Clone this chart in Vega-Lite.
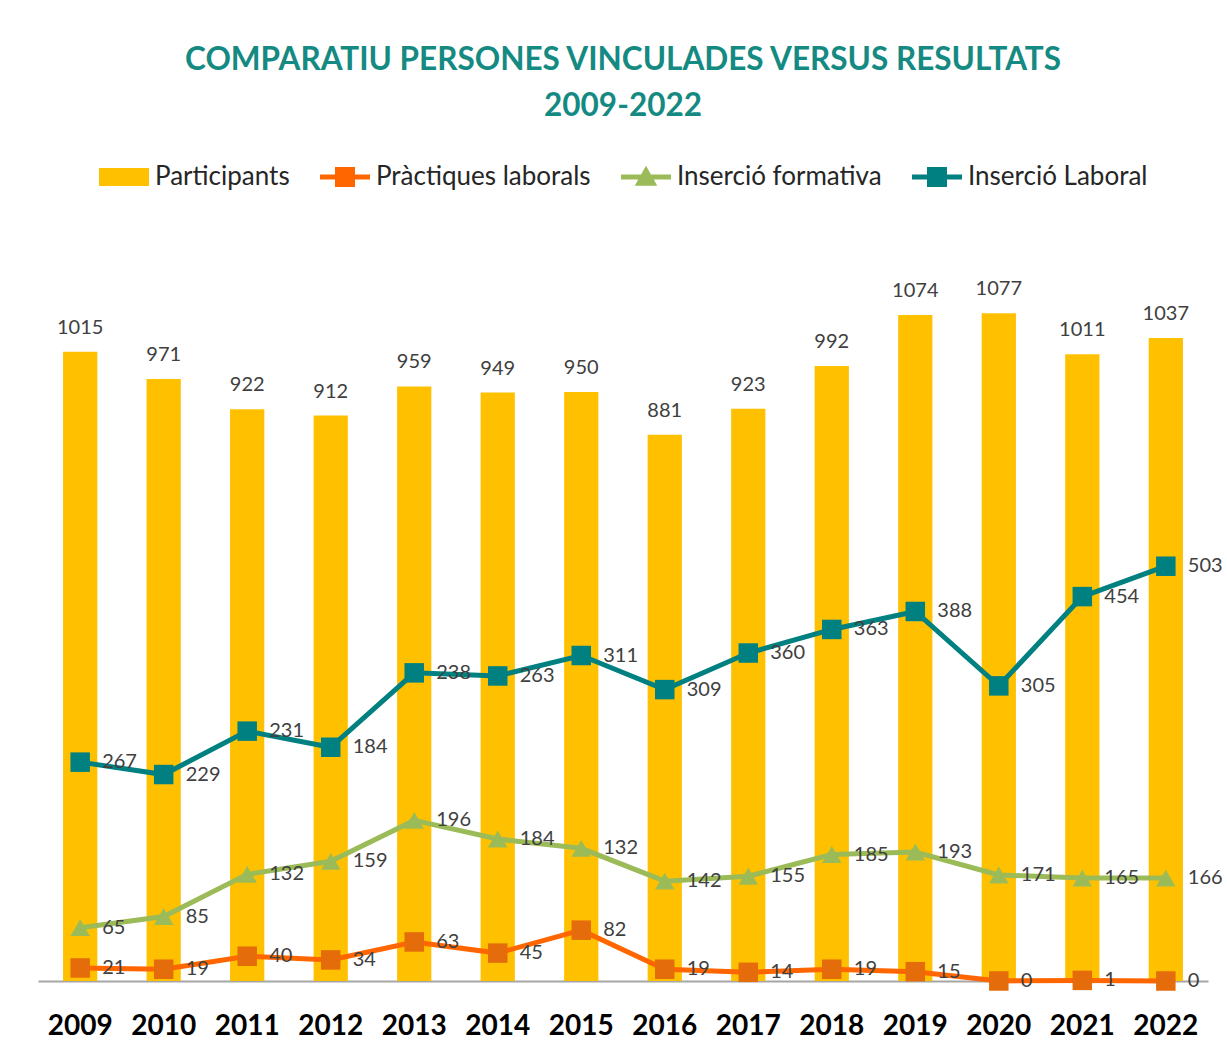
{
  "$schema": "https://vega.github.io/schema/vega-lite/v6.json",
  "width": 1170,
  "height": 744,
  "autosize": {"type": "pad"},
  "padding": {"left": 38, "right": 19, "top": 44, "bottom": 10},
  "background": "white",
  "title": {
    "text": ["COMPARATIU PERSONES VINCULADES VERSUS RESULTATS", "2009-2022"],
    "font": "Lato",
    "fontSize": 31.5,
    "fontWeight": "bold",
    "color": "#148A82",
    "lineHeight": 46,
    "anchor": "middle",
    "offset": 30
  },
  "config": {
    "view": {"stroke": null},
    "font": "Lato",
    "legend": {"layout": {"top": {"anchor": "middle"}}}
  },
  "datasets": {
    "rows": [
      {"year": "2009", "serie": "Participants", "value": 1015},
      {"year": "2010", "serie": "Participants", "value": 971},
      {"year": "2011", "serie": "Participants", "value": 922},
      {"year": "2012", "serie": "Participants", "value": 912},
      {"year": "2013", "serie": "Participants", "value": 959},
      {"year": "2014", "serie": "Participants", "value": 949},
      {"year": "2015", "serie": "Participants", "value": 950},
      {"year": "2016", "serie": "Participants", "value": 881},
      {"year": "2017", "serie": "Participants", "value": 923},
      {"year": "2018", "serie": "Participants", "value": 992},
      {"year": "2019", "serie": "Participants", "value": 1074},
      {"year": "2020", "serie": "Participants", "value": 1077},
      {"year": "2021", "serie": "Participants", "value": 1011},
      {"year": "2022", "serie": "Participants", "value": 1037},
      {"year": "2009", "serie": "Pràctiques laborals", "value": 21},
      {"year": "2010", "serie": "Pràctiques laborals", "value": 19},
      {"year": "2011", "serie": "Pràctiques laborals", "value": 40},
      {"year": "2012", "serie": "Pràctiques laborals", "value": 34},
      {"year": "2013", "serie": "Pràctiques laborals", "value": 63},
      {"year": "2014", "serie": "Pràctiques laborals", "value": 45},
      {"year": "2015", "serie": "Pràctiques laborals", "value": 82},
      {"year": "2016", "serie": "Pràctiques laborals", "value": 19},
      {"year": "2017", "serie": "Pràctiques laborals", "value": 14},
      {"year": "2018", "serie": "Pràctiques laborals", "value": 19},
      {"year": "2019", "serie": "Pràctiques laborals", "value": 15},
      {"year": "2020", "serie": "Pràctiques laborals", "value": 0},
      {"year": "2021", "serie": "Pràctiques laborals", "value": 1},
      {"year": "2022", "serie": "Pràctiques laborals", "value": 0},
      {"year": "2009", "serie": "Inserció formativa", "value": 65},
      {"year": "2010", "serie": "Inserció formativa", "value": 85},
      {"year": "2011", "serie": "Inserció formativa", "value": 132},
      {"year": "2012", "serie": "Inserció formativa", "value": 159},
      {"year": "2013", "serie": "Inserció formativa", "value": 196},
      {"year": "2014", "serie": "Inserció formativa", "value": 184},
      {"year": "2015", "serie": "Inserció formativa", "value": 132},
      {"year": "2016", "serie": "Inserció formativa", "value": 142},
      {"year": "2017", "serie": "Inserció formativa", "value": 155},
      {"year": "2018", "serie": "Inserció formativa", "value": 185},
      {"year": "2019", "serie": "Inserció formativa", "value": 193},
      {"year": "2020", "serie": "Inserció formativa", "value": 171},
      {"year": "2021", "serie": "Inserció formativa", "value": 165},
      {"year": "2022", "serie": "Inserció formativa", "value": 166},
      {"year": "2009", "serie": "Inserció Laboral", "value": 267},
      {"year": "2010", "serie": "Inserció Laboral", "value": 229},
      {"year": "2011", "serie": "Inserció Laboral", "value": 231},
      {"year": "2012", "serie": "Inserció Laboral", "value": 184},
      {"year": "2013", "serie": "Inserció Laboral", "value": 238},
      {"year": "2014", "serie": "Inserció Laboral", "value": 263},
      {"year": "2015", "serie": "Inserció Laboral", "value": 311},
      {"year": "2016", "serie": "Inserció Laboral", "value": 309},
      {"year": "2017", "serie": "Inserció Laboral", "value": 360},
      {"year": "2018", "serie": "Inserció Laboral", "value": 363},
      {"year": "2019", "serie": "Inserció Laboral", "value": 388},
      {"year": "2020", "serie": "Inserció Laboral", "value": 305},
      {"year": "2021", "serie": "Inserció Laboral", "value": 454},
      {"year": "2022", "serie": "Inserció Laboral", "value": 503}
    ]
  },
  "data": {"name": "rows"},
  "encoding": {
    "x": {
      "field": "year",
      "type": "nominal",
      "scale": {"paddingInner": 0.59, "paddingOuter": 0.3},
      "axis": {
        "title": null,
        "labelAngle": 0,
        "labelFont": "Lato",
        "labelFontSize": 28,
        "labelFontWeight": "bold",
        "labelColor": "#000000",
        "labelPadding": 31,
        "ticks": false,
        "domainColor": "#A6A6A6",
        "domainWidth": 2,
        "grid": false
      }
    }
  },
  "layer": [
    {
      "transform": [{"filter": "datum.serie === 'Participants'"}],
      "mark": {"type": "bar", "color": "#FFC000"},
      "encoding": {
        "y": {"field": "value", "type": "quantitative", "scale": {"domain": [0, 1200], "nice": false, "zero": true}, "axis": null}
      }
    },
    {
      "transform": [{"filter": "datum.serie === 'Participants'"}],
      "mark": {"type": "text", "dy": -18, "baseline": "alphabetic", "fontSize": 20, "color": "#404040", "font": "Lato"},
      "encoding": {
        "y": {"field": "value", "type": "quantitative"},
        "text": {"field": "value", "type": "quantitative"}
      }
    },
    {
      "transform": [
        {"filter": "datum.serie !== 'Participants'"},
        {"window": [{"op": "sum", "field": "value", "as": "stacked"}], "groupby": ["year"], "sort": [{"field": "serie", "order": "descending"}], "frame": [null, 0]}
      ],
      "layer": [
        {
          "transform": [{"filter": "datum.serie === 'Pràctiques laborals'"}],
          "mark": {"type": "line", "strokeWidth": 5, "color": "#FF6600"},
          "encoding": {"y": {"field": "stacked", "type": "quantitative"}}
        },
        {
          "transform": [{"filter": "datum.serie === 'Inserció formativa'"}],
          "mark": {"type": "line", "strokeWidth": 5, "color": "#9BBB59"},
          "encoding": {"y": {"field": "stacked", "type": "quantitative"}}
        },
        {
          "transform": [{"filter": "datum.serie === 'Inserció Laboral'"}],
          "mark": {"type": "line", "strokeWidth": 5, "color": "#008080"},
          "encoding": {"y": {"field": "stacked", "type": "quantitative"}}
        },
        {
          "transform": [{"filter": "datum.serie === 'Pràctiques laborals'"}],
          "mark": {"type": "square", "size": 380, "opacity": 1, "color": "#E46C0A", "filled": true},
          "encoding": {"y": {"field": "stacked", "type": "quantitative"}}
        },
        {
          "transform": [{"filter": "datum.serie === 'Inserció Laboral'"}],
          "mark": {"type": "square", "size": 380, "opacity": 1, "color": "#008080", "filled": true},
          "encoding": {"y": {"field": "stacked", "type": "quantitative"}}
        },
        {
          "transform": [{"filter": "datum.serie === 'Inserció formativa'"}],
          "mark": {"type": "point", "shape": "triangle-up", "size": 380, "opacity": 1, "color": "#9BBB59", "filled": true},
          "encoding": {"y": {"field": "stacked", "type": "quantitative"}}
        },
        {
          "mark": {"type": "text", "dx": 22, "align": "left", "baseline": "middle", "fontSize": 20, "color": "#404040", "font": "Lato"},
          "encoding": {
            "y": {"field": "stacked", "type": "quantitative"},
            "text": {"field": "value", "type": "quantitative"}
          }
        }
      ]
    },
    {
      "mark": {"type": "point", "filled": true, "opacity": 0},
      "encoding": {
        "y": {"field": "value", "type": "quantitative"},
        "color": {
          "field": "serie",
          "type": "nominal",
          "scale": {
            "domain": ["Participants", "Pràctiques laborals", "Inserció formativa", "Inserció Laboral"],
            "range": ["#FFC000", "#FF6600", "#9BBB59", "#008080"]
          },
          "legend": {
            "title": null,
            "orient": "top",
            "direction": "horizontal",
            "columns": 4,
            "labelFont": "Lato",
            "labelFontSize": 26,
            "labelLimit": 400,
            "labelColor": "#262626",
            "labelOffset": 6,
            "columnPadding": 30,
            "offset": 47,
            "symbolSize": 2500,
            "encode": {"symbols": {"update": {"opacity": {"value": 1}, "size": {"value": 2500}, "strokeWidth": {"value": 0}}}}
          }
        },
        "shape": {
          "field": "serie",
          "type": "nominal",
          "scale": {
            "domain": ["Participants", "Pràctiques laborals", "Inserció formativa", "Inserció Laboral"],
            "range": [
              "M-1,-0.36H1V0.36H-1Z",
              "M-1,-0.1H-0.4V-0.4H0.4V-0.1H1V0.1H0.4V0.4H-0.4V0.1H-1Z",
              "M-1,-0.1L-0.197,-0.1L0,-0.45L0.197,-0.1L1,-0.1L1,0.1L0.309,0.1L0.45,0.35L-0.45,0.35L-0.309,0.1L-1,0.1Z",
              "M-1,-0.1H-0.4V-0.4H0.4V-0.1H1V0.1H0.4V0.4H-0.4V0.1H-1Z"
            ]
          },
          "legend": {
            "title": null,
            "orient": "top",
            "direction": "horizontal",
            "columns": 4,
            "labelFont": "Lato",
            "labelFontSize": 26,
            "labelLimit": 400,
            "labelColor": "#262626",
            "labelOffset": 6,
            "columnPadding": 30,
            "offset": 47,
            "symbolSize": 2500,
            "encode": {"symbols": {"update": {"opacity": {"value": 1}, "size": {"value": 2500}, "strokeWidth": {"value": 0}}}}
          }
        }
      }
    }
  ]
}
